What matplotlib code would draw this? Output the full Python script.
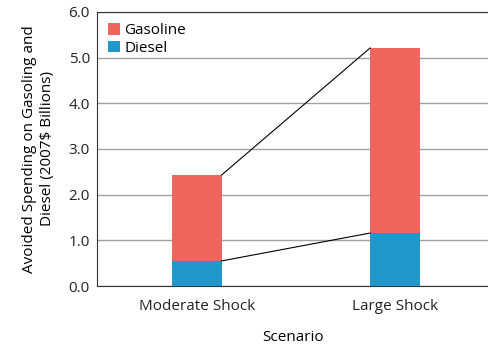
import matplotlib.pyplot as plt
import numpy as np

plt.rcParams['font.family'] = ['Open Sans', 'DejaVu Sans']

scenarios = ["Moderate Shock", "Large Shock"]
diesel = [0.55, 1.16]
gasoline = [1.88, 4.05]

c_gas = '#F0665F'
c_dsl = '#2098CC'

fig = plt.figure(figsize=(4.89, 3.48), dpi=100)
ax = fig.add_axes([0.198, 0.178, 0.802, 0.788])

x = np.arange(len(scenarios))
w = 0.25
ax.bar(x, diesel, w, color=c_dsl, label='Diesel', zorder=3)
ax.bar(x, gasoline, w, bottom=diesel, color=c_gas, label='Gasoline', zorder=3)

# connector lines between bar tops
tot = np.array(diesel) + np.array(gasoline)
ax.plot([x[0] + w / 2, x[1] - w / 2], [diesel[0], diesel[1]], color='black', lw=0.8, zorder=4)
ax.plot([x[0] + w / 2, x[1] - w / 2], [tot[0], tot[1]], color='black', lw=0.8, zorder=4)

ax.set_xlim(-0.505, 1.475)
ax.set_ylim(0, 6)
ax.set_yticks(np.arange(0, 6.1, 1))
ax.set_yticklabels([f"{v:.1f}" for v in np.arange(0, 6.1, 1)])
ax.set_xticks(x)
ax.set_xticklabels(scenarios)
ax.tick_params(axis='both', length=0, labelsize=11, colors='#222222')
ax.tick_params(axis='x', pad=9)
ax.tick_params(axis='y', pad=5)
ax.yaxis.grid(True, color='#a0a0a0', lw=1, zorder=0)
ax.spines['right'].set_visible(False)
ax.spines['top'].set_color('#333333')
for s in ['left', 'bottom']:
    ax.spines[s].set_color('#333333')

ax.set_xlabel("Scenario", fontsize=11, labelpad=12)
ax.set_ylabel("Avoided Spending on Gasoling and\nDiesel (2007$ Billions)", fontsize=11, labelpad=10)

h, l = ax.get_legend_handles_labels()
ax.legend(h[::-1], l[::-1], loc='upper left', frameon=False, fontsize=11,
          handlelength=0.75, handleheight=0.75, handletextpad=0.3, labelspacing=0.15,
          borderaxespad=0.35)

fig.savefig("out.png", dpi=100)
